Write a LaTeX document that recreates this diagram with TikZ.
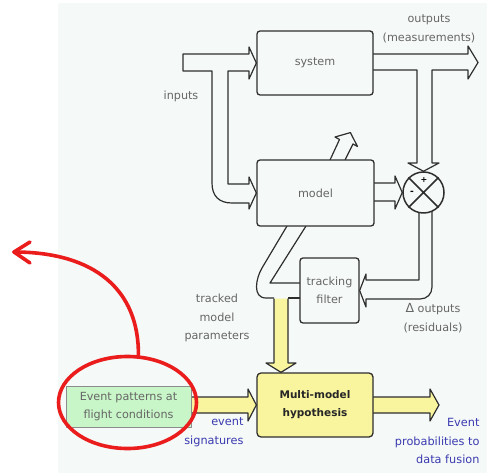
\documentclass[tikz,border=0pt]{standalone}
\usepackage{fontspec}
\setmainfont{DejaVu Sans}
\usetikzlibrary{shapes.geometric,backgrounds}
\definecolor{panel}{HTML}{F5F9F7}
\definecolor{linec}{HTML}{2E2E2E}
\definecolor{lblgrey}{HTML}{666666}
\definecolor{yel}{HTML}{F9F59E}
\definecolor{grn}{HTML}{C8F6C8}
\definecolor{blu}{HTML}{3A3AB0}
\definecolor{redc}{HTML}{EA1C1C}
\newcommand\lblfont{\fontsize{11.2}{18.5}\selectfont}
\newcommand\hypfont{\fontsize{10.5}{18}\selectfont\bfseries}
\newcommand\blufont{\fontsize{11.3}{18.5}\selectfont}
\begin{document}
\begin{tikzpicture}[x=1pt,y=-1pt,line join=round,
  flow/.style={draw=linec,line width=1.2pt,line join=round},
  yflow/.style={flow,fill=yel},
  blockbox/.style={draw=linec,line width=1.3pt,rounded corners=3pt,fill=panel,
    text=lblgrey,font=\lblfont,align=center,inner sep=0pt},
  lbl/.style={text=lblgrey,font=\lblfont,align=center},
  blulbl/.style={text=blu,font=\blufont,align=right,anchor=east},
  redline/.style={draw=redc,line width=3.6pt,line cap=round,line join=round}]
\useasboundingbox (0,0) rectangle (492,473);

% boxes
\node[blockbox,minimum width=116pt,minimum height=64pt] (sys) at (315,63) {system};
\node[blockbox,minimum width=117pt,minimum height=66pt] (mdl) at (315.5,193) {model};
\node[blockbox,minimum width=59pt,minimum height=65pt] (flt) at (329.5,290.5) {tracking\\filter};
\node[blockbox,fill=yel,text=black!85,font=\hypfont,rounded corners=4pt,
  minimum width=116pt,minimum height=64pt] (hyp) at (315,405) {Multi-model\\hypothesis};
\node[draw=black!45,fill=grn,line width=0.9pt,minimum width=125pt,minimum height=41pt,
  inner sep=0pt,text=lblgrey,align=center,font=\lblfont] (evt) at (128.5,406.5)
  {Event patterns at\\flight conditions};
\node[circle,draw=linec,line width=1.5pt,fill=panel,minimum size=41pt,inner sep=0pt] (sum) at (423.5,192.5) {};
\draw[linec,line width=1.5pt] (sum.north west) -- (sum.south east)
  (sum.north east) -- (sum.south west);
\node[font=\fontsize{8}{9}\selectfont\bfseries] (plus) at (424,180) {+};
\node[font=\fontsize{9}{9}\selectfont\bfseries] (minus) at (412,192.5) {-};

% flows behind boxes
\begin{scope}[on background layer]
\fill[panel] (58,3) rectangle (487,473);
% inputs
\draw[flow] (183,71) -- (183,54) -- (249,54) -- (249,47) -- (sys.west) -- (249,79)
  -- (249,71) -- (228,71) -- (228,184) -- (249,184) -- (249,177) -- (mdl.west)
  -- (249,209) -- (249,203) -- (232,203) .. controls (219,203) and (212,196) .. (212,183)
  -- (212,71) -- cycle;
% outputs
\draw[flow] (373,54) -- (468,54) -- (468,46) -- (478,62.5) -- (468,79) -- (468,70)
  -- (432,70) -- (432,163) -- (439,163) -- (sum.north) -- (408,163) -- (417,163)
  -- (417,70) -- (373,70);
% model -> sum
\draw[flow] (374,183) -- (395,183) -- (395,176) -- (sum.west) -- (395,209) -- (395,201) -- (374,201);
% sum -> filter
\draw[flow] (419,212.5) -- (419,280) -- (366,280) -- (366,274) -- (flt.east) -- (366,307)
  -- (366,299) -- (420,299) .. controls (427,299) and (432,294) .. (432,287) -- (432,211);
% model parameters band
\draw[flow] (287,226) -- (262,268) .. controls (256,278) and (252,298) .. (266,298) -- (274,298);
\draw[flow] (306,226) -- (270,283) -- (300,283);
\draw[flow] (288,298) -- (300,298);
% small up-right arrow
\draw[flow] (330,160) -- (339.5,139.5) -- (335,137) -- (350.4,132.6) -- (357.5,146.5)
  -- (353,144) -- (345,160);
% yellow arrows
\draw[yflow] (274,298.5) -- (274,363) -- (266,363) -- (hyp.north -| 281,0) -- (296,363)
  -- (288,363) -- (288,298.5);
\draw[yflow] (191,397) -- (248,397) -- (248,389) -- (hyp.west) -- (248,421) -- (248,413) -- (191,413);
\draw[yflow] (373,397) -- (430,397) -- (430,389) -- (439,405) -- (430,421) -- (430,413) -- (373,413);
\end{scope}

% labels
\node[lbl] (outl) at (429,29) {outputs\\(measurements)};
\node[lbl] (inl) at (181,96) {inputs};
\node[lbl] (tmp) at (217,318) {tracked\\model\\parameters};
\node[lbl] (res) at (433,318) {{\fontsize{12.5}{12}\selectfont Δ} outputs\\(residuals)};
\node[blulbl] (sig) at (247,432) {event\\signatures};
\node[blulbl] (prob) at (483,441) {Event\\probabilities to\\data fusion};

% red annotation
\node[ellipse,draw=redc,line width=3.6pt,minimum width=138pt,minimum height=92pt,inner sep=0pt] (ring) at (127.5,402.5) {};
\coordinate (tipc) at (14,252);
\draw[redline] (ring.77) .. controls (139,290) and (95,252) .. (tipc);
\draw[redline] (30,242) -- (tipc) -- (30,263);
\end{tikzpicture}
\end{document}
